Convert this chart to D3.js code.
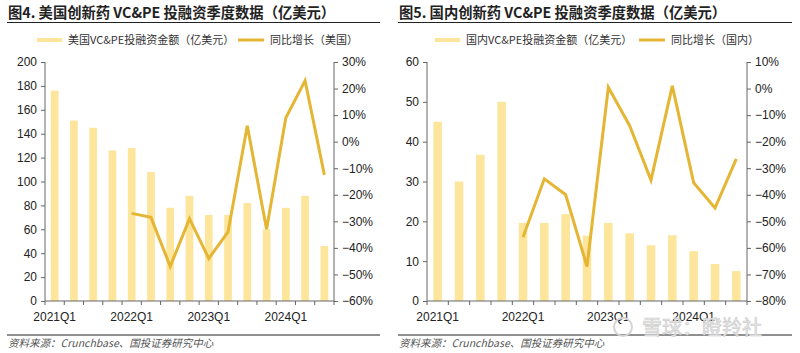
<!DOCTYPE html>
<html>
<head>
<meta charset="utf-8">
<script src="https://cdn.jsdelivr.net/npm/d3@7"></script>
<style>
body { margin: 0; background: #fff; }
svg { display: block; }
</style>
</head>
<body>
<svg width="800" height="353"></svg>
<script>
var quarters = ["2021Q1","2021Q2","2021Q3","2021Q4","2022Q1","2022Q2","2022Q3","2022Q4",
  "2023Q1","2023Q2","2023Q3","2023Q4","2024Q1","2024Q2","2024Q3"];
var labelQuarters = ["2021Q1","2022Q1","2023Q1","2024Q1"];

var usAmount = [176, 151, 145, 126, 128, 108, 78, 88, 72, 72, 82, 60, 78, 88, 46];
var usGrowth = [null, null, null, null, -27, -28.5, -47, -29, -44, -34, 6, -33, 9, 23, -12.5];

var cnAmount = [45, 30, 36.7, 50, 19.6, 19.6, 21.8, 16.4, 19.6, 17, 14, 16.5, 12.5, 9.3, 7.5];
var cnGrowth = [null, null, null, null, -56, -34, -40, -67, 0.5, -14, -34.5, 1, -35.5, -45, -26.5];

var usTicks = [0, 20, 40, 60, 80, 100, 120, 140, 160, 180, 200];
var usPctTicks = [-60, -50, -40, -30, -20, -10, 0, 10, 20, 30];
var cnTicks = [0, 10, 20, 30, 40, 50, 60];
var cnPctTicks = [-80, -70, -60, -50, -40, -30, -20, -10, 0, 10];

var barColor = "#FDE59C";
var lineColor = "#E5B534";
var axisColor = "#666";

var svg = d3.select("svg");

function drawPanel(p) {
  var g = svg.append("g");

  // title + rule
  g.append("text")
    .attr("x", p.x0 + 1).attr("y", 18)
    .attr("font-family", "'Noto Sans CJK SC', sans-serif")
    .attr("font-weight", "bold")
    .attr("font-size", 14.3)
    .attr("fill", "#222")
    .text(p.title);
  g.append("line")
    .attr("x1", p.x0).attr("x2", p.x0 + p.ruleW)
    .attr("y1", 22.5).attr("y2", 22.5)
    .attr("stroke", "#222").attr("stroke-width", 1.2);

  // legend
  var lg = g.append("g").attr("font-family", "'Noto Sans CJK SC', sans-serif")
    .attr("font-size", 11).attr("fill", "#333");
  lg.append("line").attr("x1", p.leg1).attr("x2", p.leg1 + 25)
    .attr("y1", 40).attr("y2", 40).attr("stroke", barColor).attr("stroke-width", 4);
  lg.append("text").attr("x", p.leg1 + 31).attr("y", 44).text(p.legBar);
  lg.append("line").attr("x1", p.leg2).attr("x2", p.leg2 + 26)
    .attr("y1", 40).attr("y2", 40).attr("stroke", lineColor).attr("stroke-width", 3);
  lg.append("text").attr("x", p.leg2 + 32).attr("y", 44).text(p.legLine);

  var x = d3.scaleBand().domain(quarters).range([p.left, p.right]).padding(0);
  var y = d3.scaleLinear().domain([0, p.ymax]).range([301, 62]);
  var y2 = d3.scaleLinear().domain([p.pmin, p.pmax]).range([301, 62]);

  var bw = x.bandwidth() * 0.4;
  g.selectAll(".bar").data(p.amount).enter().append("rect")
    .attr("x", function(d, i) { return x(quarters[i]) + (x.bandwidth() - bw) / 2; })
    .attr("y", function(d) { return y(d); })
    .attr("width", bw)
    .attr("height", function(d) { return y(0) - y(d); })
    .attr("fill", barColor);

  var line = d3.line()
    .defined(function(d) { return d != null; })
    .x(function(d, i) { return x(quarters[i]) + x.bandwidth() / 2; })
    .y(function(d) { return y2(d); });
  g.append("path").datum(p.growth)
    .attr("d", line)
    .attr("fill", "none")
    .attr("stroke", lineColor)
    .attr("stroke-width", 3)
    .attr("stroke-linejoin", "miter");

  // axes
  var ax = g.append("g").attr("transform", "translate(" + p.left + ",0)")
    .call(d3.axisLeft(y).tickValues(p.ticks).tickSize(4).tickPadding(4));
  var ax2 = g.append("g").attr("transform", "translate(" + p.right + ",0)")
    .call(d3.axisRight(y2).tickValues(p.pctTicks).tickSize(4).tickPadding(4)
      .tickFormat(function(d) { return (d < 0 ? "\u2212" + (-d) : d) + "%"; }));

  var xa = g.append("g").attr("transform", "translate(0,301)");
  xa.append("line").attr("x1", p.left).attr("x2", p.right).attr("y1", 0).attr("y2", 0)
    .attr("stroke", axisColor);
  xa.selectAll(".xt").data(quarters.concat(["end"])).enter().append("line")
    .attr("x1", function(d, i) { return p.left + i * x.step(); })
    .attr("x2", function(d, i) { return p.left + i * x.step(); })
    .attr("y1", 0).attr("y2", 4).attr("stroke", axisColor);
  xa.selectAll(".xl").data(labelQuarters).enter().append("text")
    .attr("x", function(d) { return x(d) + x.bandwidth() / 2; })
    .attr("y", 20)
    .attr("text-anchor", "middle")
    .attr("font-family", "'Liberation Sans', Arial, sans-serif")
    .attr("font-size", 12).attr("fill", "#222")
    .text(function(d) { return d; });

  [ax, ax2].forEach(function(a) {
    a.select(".domain").attr("stroke", axisColor);
    a.selectAll(".tick line").attr("stroke", axisColor);
    a.selectAll(".tick text").attr("font-family", "'Liberation Sans', Arial, sans-serif")
      .attr("font-size", 12).attr("fill", "#222");
  });
  ax.select(".domain").attr("d", "M0,62V301");
  ax2.select(".domain").attr("d", "M0,62V301");

  // source
  g.append("line")
    .attr("x1", p.x0).attr("x2", p.x0 + p.ruleW)
    .attr("y1", 335).attr("y2", 335)
    .attr("stroke", "#222").attr("stroke-width", 1.2);
  g.append("text")
    .attr("x", p.x0 + 1).attr("y", 347)
    .attr("font-family", "'Noto Sans CJK SC', sans-serif")
    .attr("font-style", "italic")
    .attr("font-size", 10.5)
    .attr("fill", "#555")
    .text("资料来源：Crunchbase、国投证券研究中心");
}

drawPanel({
  x0: 7, ruleW: 373, left: 45, right: 334,
  title: "图4. 美国创新药 VC&PE 投融资季度数据（亿美元）",
  leg1: 37, leg2: 238,
  legBar: "美国VC&PE投融资金额（亿美元）", legLine: "同比增长（美国）",
  amount: usAmount, growth: usGrowth, ymax: 200, pmin: -60, pmax: 30,
  ticks: usTicks, pctTicks: usPctTicks
});

drawPanel({
  x0: 398, ruleW: 394, left: 427, right: 747,
  title: "图5. 国内创新药 VC&PE 投融资季度数据（亿美元）",
  leg1: 435, leg2: 639,
  legBar: "国内VC&PE投融资金额（亿美元）", legLine: "同比增长（国内）",
  amount: cnAmount, growth: cnGrowth, ymax: 60, pmin: -80, pmax: 10,
  ticks: cnTicks, pctTicks: cnPctTicks
});

// watermark
svg.append("text")
  .attr("x", 642).attr("y", 335)
  .attr("font-family", "'Noto Sans CJK SC', sans-serif")
  .attr("font-size", 20)
  .attr("fill", "#e6e6e6")
  .attr("stroke", "#cccccc").attr("stroke-width", 0.6)
  .text("雪球：瞪羚社");
svg.append("circle").attr("cx", 623).attr("cy", 327).attr("r", 9)
  .attr("fill", "none").attr("stroke", "#d4d4d4").attr("stroke-width", 2);
</script>
</body>
</html>
